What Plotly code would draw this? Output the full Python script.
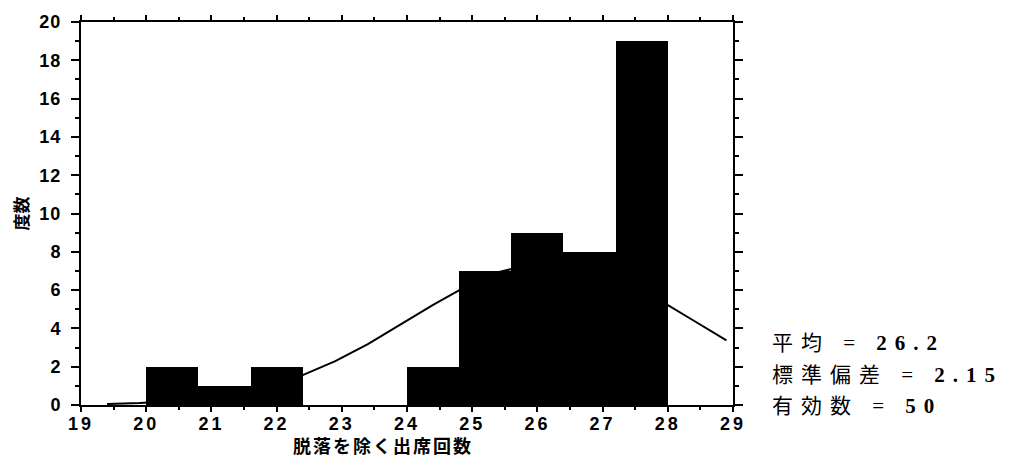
import plotly.graph_objects as go

# Histogram bins (left edges), bin width and counts
bin_left = [20.0, 20.8, 21.6, 22.4, 23.2, 24.0, 24.8, 25.6, 26.4, 27.2]
bin_width = 0.8
counts = [2, 1, 2, 0, 0, 2, 7, 9, 8, 19]

# Fitted normal curve
curve_x = [19.4, 19.9, 20.4, 20.9, 21.4, 21.9, 22.4, 22.9, 23.4, 23.9, 24.4,
           24.9, 25.4, 25.9, 26.2, 26.4, 26.9, 27.4, 27.9, 28.4, 28.9]
curve_y = [0.05, 0.10, 0.20, 0.36, 0.61, 1.00, 1.56, 2.29, 3.18, 4.19, 5.23,
           6.18, 6.93, 7.35, 7.42, 7.39, 7.04, 6.35, 5.43, 4.40, 3.37]

x_ticks = [19, 20, 21, 22, 23, 24, 25, 26, 27, 28, 29]
y_ticks = [0, 2, 4, 6, 8, 10, 12, 14, 16, 18, 20]

stats_labels = ["平均", "標準偏差", "有効数"]
stats_values = ["26.2", "2.15", "50"]
x_title = "脱落を除く出席回数"
y_title = "度数"

fig = go.Figure()
fig.add_trace(go.Scatter(x=curve_x, y=curve_y, mode="lines",
                         line=dict(color="black", width=2), showlegend=False,
                         xaxis="x", yaxis="y", hoverinfo="skip"))
fig.add_trace(go.Bar(x=bin_left, y=counts, width=bin_width, offset=0,
                     marker=dict(color="black", line=dict(width=0)),
                     showlegend=False, xaxis="x2", yaxis="y2"))

tickfont = dict(family="Liberation Sans Narrow, Liberation Sans, Arial, sans-serif",
                size=18, color="black", weight="bold")
common_x = dict(range=[19, 29], showgrid=False, zeroline=False, automargin=False)
common_y = dict(range=[0, 20], showgrid=False, zeroline=False, automargin=False)

fig.update_layout(
    width=1012, height=467,
    margin=dict(l=73, r=287, t=14, b=70),
    paper_bgcolor="white", plot_bgcolor="white",
    bargap=0,
    xaxis=dict(**common_x, tickvals=x_ticks,
               ticktext=["<span style='letter-spacing:3px'>%d</span>" % v for v in x_ticks],
               ticks="outside", ticklen=5, tickwidth=2, tickcolor="black",
               showline=True, linewidth=2, linecolor="black", mirror="allticks",
               tickfont=tickfont, ticklabelstandoff=-4,
               minor=dict(dtick=0.5, ticks="outside", ticklen=3, tickwidth=2, tickcolor="black")),
    yaxis=dict(**common_y, tickvals=y_ticks,
               ticktext=["<span style='letter-spacing:1px'>%d</span>" % v for v in y_ticks],
               ticks="outside", ticklen=8, tickwidth=2, tickcolor="black",
               showline=True, linewidth=2, linecolor="black", mirror="allticks",
               tickfont=tickfont, ticklabelstandoff=6,
               minor=dict(dtick=1, ticks="outside", ticklen=4, tickwidth=2, tickcolor="black")),
    xaxis2=dict(**common_x, overlaying="x", visible=False),
    yaxis2=dict(**common_y, overlaying="y", visible=False, anchor="x2"),
)

fig.add_annotation(text="<span style='letter-spacing:2px'>%s</span>" % x_title,
                   xref="paper", yref="paper", x=0, y=0, xshift=302, yshift=-40,
                   xanchor="center", yanchor="middle", showarrow=False,
                   font=dict(family="Noto Sans CJK JP", size=18, color="black", weight="bold"))
fig.add_annotation(text=y_title, xref="paper", yref="paper", x=0, y=0.5, xshift=-61,
                   xanchor="center", yanchor="middle", showarrow=False, textangle=-90,
                   font=dict(family="Noto Sans CJK JP", size=17, color="black", weight="bold"))

stats_yshift = [62, 30, -1]
for label, value, ys in zip(stats_labels, stats_values, stats_yshift):
    text = ("<span style='letter-spacing:8px'>%s = <b>%s</b></span>" % (label, value))
    fig.add_annotation(text=text,
                       xref="paper", yref="paper", x=1, y=0,
                       xshift=37, yshift=ys,
                       xanchor="left", yanchor="middle", showarrow=False,
                       font=dict(family="Liberation Serif, Noto Sans CJK JP", size=21, color="black"))

fig.write_html("out.html")
